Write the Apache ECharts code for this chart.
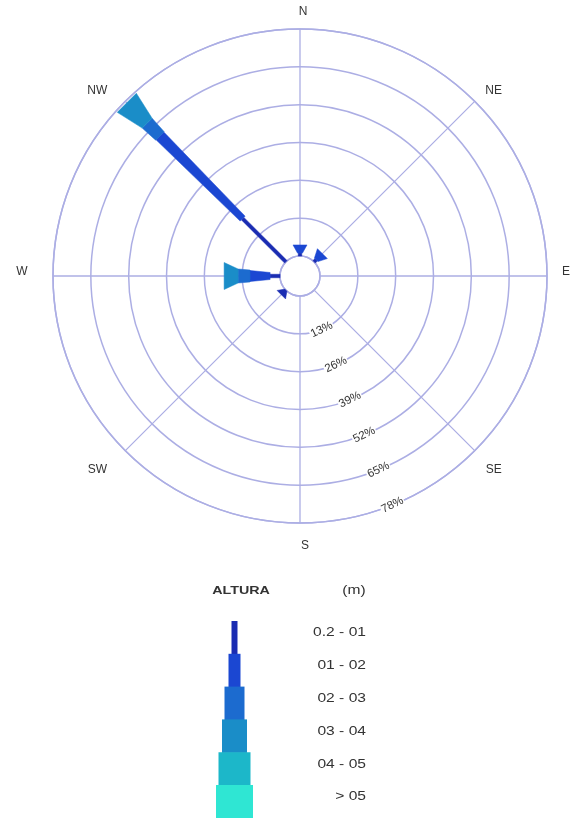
<!DOCTYPE html>
<html>
<head>
<meta charset="utf-8">
<script src="https://cdn.jsdelivr.net/npm/echarts@6/dist/echarts.min.js"></script>
<style>
html,body{margin:0;padding:0;background:#fff;}
#chart{width:573px;height:818px;}
</style>
</head>
<body>
<div id="chart"></div>
<script>
// ---- data ----
const directions = [0, 45, 90, 135, 180, 225, 270, 315];
const dirLabels = ['N', 'NE', 'E', 'SE', 'S', 'SW', 'W', 'NW'];
const binLabels = ['0.2 - 01', '01 - 02', '02 - 03', '03 - 04', '04 - 05', '> 05'];
// % of occurrences per direction, per wave height bin
const bin1 = [1.0, 1.0, 0, 0, 0, 2.2, 3.4, 21.0];
const bin2 = [2.8, 3.0, 0, 0, 0, 0, 6.9, 40.2];
const bin3 = [0, 0, 0, 0, 0, 0, 4.1, 6.2];
const bin4 = [0, 0, 0, 0, 0, 0, 4.8, 9.9];
const bin5 = [0, 0, 0, 0, 0, 0, 0, 0];
const bin6 = [0, 0, 0, 0, 0, 0, 0, 0];
const ringTicks = [13, 26, 39, 52, 65, 78];
const ringLabels = ['13%', '26%', '39%', '52%', '65%', '78%'];

// ---- styles ----
const binColors = ['#1a2cb2', '#1b47d2', '#1c6bcf', '#1a8dc8', '#1cb7c9', '#2fe6d3'];
// widths in px: [inner, outer] for inner segments and for the tip segment
const segW = [[3.5, 3.5], [7, 11], [12, 14], [16, 18], [20, 22], [26, 28]];
const tipW = [[3, 12], [5, 14], [12, 22], [14, 27], [20, 32], [26, 38]];
// pixel offsets of direction labels from the outer circle
const dirLabelOff = [[3, -17], [19, -11], [19, -4], [19, 19], [5, 23], [-28, 19], [-31, -4], [-28, -11]];
const gridColor = '#acaee4';
const FONT = '"Liberation Sans", Arial, sans-serif';

const bins = [bin1, bin2, bin3, bin4, bin5, bin6];
const segments = [];
directions.forEach((ang, i) => {
  let last = -1;
  bins.forEach((b, k) => { if (b[i] > 0) last = k; });
  let cum = 0;
  bins.forEach((b, k) => {
    const v = b[i];
    if (v > 0) {
      segments.push([cum, ang, cum + v, k, k === last ? 1 : 0]);
      cum += v;
    }
  });
});

const chart = echarts.init(document.getElementById('chart'), null, {renderer: 'canvas'});

const legendGraphics = [];
const legendW = [6, 12, 20, 25, 32, 37];
binLabels.forEach((lab, i) => {
  legendGraphics.push({
    type: 'rect',
    shape: {x: 234.5 - legendW[i] / 2, y: 621 + i * 32.8, width: legendW[i], height: 33.5},
    style: {fill: binColors[i]}
  });
  legendGraphics.push({
    type: 'text',
    x: 366, y: 633 + i * 32.8, scaleX: 1.3,
    style: {text: lab, fill: '#333', font: '12px ' + FONT, textAlign: 'right', textVerticalAlign: 'middle'}
  });
});
legendGraphics.push({
  type: 'text', x: 241, y: 591, scaleX: 1.3,
  style: {text: 'ALTURA', fill: '#333', font: 'bold 11px ' + FONT, textAlign: 'center', textVerticalAlign: 'middle'}
});
legendGraphics.push({
  type: 'text', x: 354, y: 591, scaleX: 1.3,
  style: {text: '(m)', fill: '#333', font: '12px ' + FONT, textAlign: 'center', textVerticalAlign: 'middle'}
});

const option = {
  backgroundColor: '#fff',
  animation: false,
  polar: {center: [300, 276], radius: [20, 247]},
  angleAxis: {
    type: 'value', min: 0, max: 360, interval: 45,
    startAngle: 90, clockwise: true,
    axisLine: {show: true, lineStyle: {color: gridColor, width: 1.5}},
    axisTick: {show: false},
    axisLabel: {show: false},
    splitLine: {show: true, lineStyle: {color: gridColor, width: 1.3}}
  },
  radiusAxis: {
    type: 'value', min: 0, max: 78, interval: 13,
    axisLine: {show: false}, axisTick: {show: false}, axisLabel: {show: false},
    splitLine: {show: true, lineStyle: {color: gridColor, width: 1.5}}
  },
  graphic: legendGraphics,
  series: [
    {
      type: 'custom',
      coordinateSystem: 'polar',
      data: segments,
      encode: {radius: 0, angle: 1},
      z: 5,
      renderItem: function (params, api) {
        const r0 = api.value(0), ang = api.value(1), r1 = api.value(2);
        const k = api.value(3), isTip = api.value(4) === 1;
        const p0 = api.coord([r0, ang]);
        const p1 = api.coord([r1, ang]);
        const dx = p1[0] - p0[0], dy = p1[1] - p0[1];
        const len = Math.sqrt(dx * dx + dy * dy) || 1;
        const nx = -dy / len, ny = dx / len;
        const w = isTip ? tipW[k] : segW[k];
        const a = w[0] / 2, b = w[1] / 2;
        return {
          type: 'polygon',
          shape: {points: [
            [p0[0] + nx * a, p0[1] + ny * a],
            [p1[0] + nx * b, p1[1] + ny * b],
            [p1[0] - nx * b, p1[1] - ny * b],
            [p0[0] - nx * a, p0[1] - ny * a]
          ]},
          style: {fill: binColors[k], stroke: binColors[k], lineWidth: 0.5}
        };
      }
    },
    {
      type: 'custom',
      coordinateSystem: 'polar',
      data: ringTicks.map((v, i) => [v, 158, i]),
      encode: {radius: 0, angle: 1},
      z: 6,
      renderItem: function (params, api) {
        const p = api.coord([api.value(0), api.value(1)]);
        return {
          type: 'text',
          x: p[0], y: p[1],
          rotation: 26 * Math.PI / 180,
          style: {
            text: ringLabels[api.value(2)],
            x: 0, y: 0,
            fill: '#333', font: '11.5px ' + FONT,
            textAlign: 'center', textVerticalAlign: 'middle',
            backgroundColor: '#fff', padding: [0, 1]
          }
        };
      }
    },
    {
      type: 'custom',
      coordinateSystem: 'polar',
      data: directions.map((a, i) => [78, a, i]),
      encode: {radius: 0, angle: 1},
      z: 6,
      renderItem: function (params, api) {
        const i = api.value(2);
        const p = api.coord([api.value(0), api.value(1)]);
        const off = dirLabelOff[i];
        return {
          type: 'text',
          x: p[0] + off[0], y: p[1] + off[1],
          style: {
            text: dirLabels[i], x: 0, y: 0,
            fill: '#333', font: '12px ' + FONT,
            textAlign: 'center', textVerticalAlign: 'middle'
          }
        };
      }
    }
  ]
};
chart.setOption(option);
</script>
</body>
</html>
